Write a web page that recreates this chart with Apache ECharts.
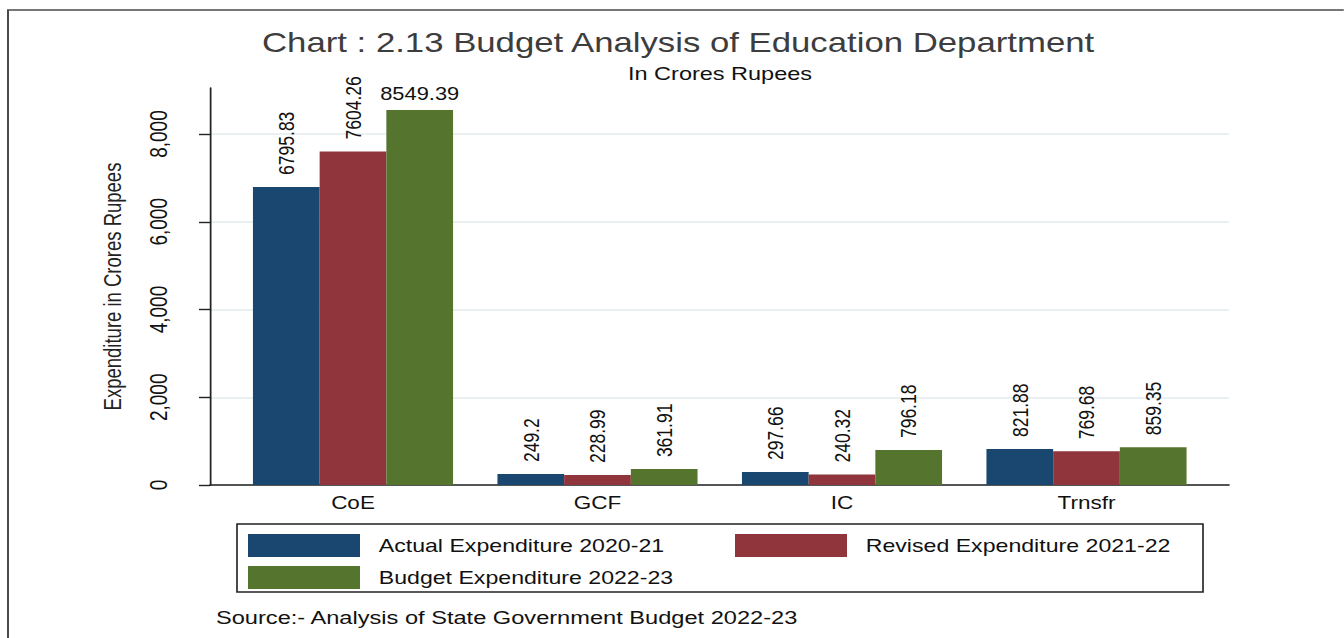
<!DOCTYPE html>
<html>
<head>
<meta charset="utf-8">
<script src="https://cdn.jsdelivr.net/npm/echarts@6/dist/echarts.min.js"></script>
<style>
  html, body { margin: 0; padding: 0; background: #fff; overflow: hidden; }
  #wrap { width: 1344px; height: 638px; overflow: hidden; position: relative; }
  #chart { position: absolute; left: 0; top: 0; height: 638px; transform-origin: 0 0; }
</style>
</head>
<body>
<div id="wrap"><div id="chart"></div></div>
<script>
// ---- data -------------------------------------------------------------
const categories   = ['CoE', 'GCF', 'IC', 'Trnsfr'];
const seriesNames  = ['Actual Expenditure 2020-21', 'Revised Expenditure 2021-22', 'Budget Expenditure 2022-23'];
const actual2021   = [6795.83, 249.2, 297.66, 821.88];
const revised2122  = [7604.26, 228.99, 240.32, 769.68];
const budget2223   = [8549.39, 361.91, 796.18, 859.35];
const yTickValues  = [0, 2000, 4000, 6000, 8000];
const yMax         = 9050;

// ---- layout -----------------------------------------------------------
// The graph is drawn on a narrower canvas and widened horizontally.
const SX = 1.25;
const W = 1344 / SX;
const H = 638;
const px = x => x / SX;           // page x -> drawing x

const el = document.getElementById('chart');
el.style.width = W + 'px';
el.style.transform = 'scaleX(' + SX + ')';

const FONT = '"Liberation Sans", Arial, Helvetica, sans-serif';
const colors = ['#1a476f', '#90353b', '#55752f'];

const plotTop = 88, plotBottom = H - 485;
const axisLeft = px(210), axisRight = px(1229);
const barsLeft = px(230.75), barsRight = px(1208.75);

const barLabel = {
  show: true,
  position: 'top',
  rotate: 90,
  align: 'left',
  verticalAlign: 'middle',
  distance: 12,
  fontFamily: FONT,
  fontSize: 17.5,
  color: '#111'
};

function barSeries(name, values, idx) {
  return {
    name: name,
    type: 'bar',
    xAxisIndex: 1,
    yAxisIndex: 1,
    barWidth: px(66.7),
    barGap: '0%',
    itemStyle: { color: colors[idx] },
    label: barLabel,
    data: values
  };
}

// tallest bar carries its value label horizontally above it
const budgetData = budget2223.map((v, i) => i === 0
  ? { value: v, label: { rotate: 0, align: 'center', verticalAlign: 'bottom', distance: 7 } }
  : v);

const chart = echarts.init(el, null, { renderer: 'svg', width: W, height: H });

const legendCommon = {
  icon: 'rect',
  itemWidth: px(112),
  itemHeight: 23,
  itemGap: 9,
  padding: 0,
  orient: 'vertical',
  top: 534,
  textStyle: { fontFamily: FONT, fontSize: 18.5, color: '#111', padding: [0, 0, 0, 10] }
};

chart.setOption({
  backgroundColor: '#fff',
  animation: false,
  color: colors,
  title: [
    {
      text: 'Chart : 2.13 Budget Analysis of Education Department',
      left: px(262), top: 29, padding: 0,
      textStyle: { fontFamily: FONT, fontSize: 27.8, fontWeight: 'normal', color: '#3d3d3d' }
    },
    {
      text: 'In Crores Rupees',
      left: px(628), top: 64, padding: 0,
      textStyle: { fontFamily: FONT, fontSize: 18.8, fontWeight: 'normal', color: '#111' }
    },
    {
      text: 'Source:- Analysis of State Government Budget 2022-23',
      left: px(216), top: 608, padding: 0,
      textStyle: { fontFamily: FONT, fontSize: 18.9, fontWeight: 'normal', color: '#111' }
    }
  ],
  legend: [
    Object.assign({}, legendCommon, { left: px(248), data: [seriesNames[0], seriesNames[2]] }),
    Object.assign({}, legendCommon, { left: px(735), data: [seriesNames[1]] })
  ],
  grid: [
    { left: axisLeft, right: W - axisRight, top: plotTop, bottom: plotBottom },
    { left: barsLeft, right: W - barsRight, top: plotTop, bottom: plotBottom }
  ],
  xAxis: [
    {
      gridIndex: 0, type: 'value', min: 0, max: 1,
      axisLine: { show: true, onZero: false, lineStyle: { color: '#222', width: 1.5 } },
      axisTick: { show: false }, axisLabel: { show: false }, splitLine: { show: false }
    },
    {
      gridIndex: 1, type: 'category', data: categories,
      axisLine: { show: false }, axisTick: { show: false },
      axisLabel: { margin: 9, fontFamily: FONT, fontSize: 18, color: '#111' }
    }
  ],
  yAxis: [
    {
      gridIndex: 0, type: 'value', min: 0, max: yMax,
      name: 'Expenditure in Crores Rupees',
      nameLocation: 'middle',
      nameGap: 68,
      nameTextStyle: { fontFamily: FONT, fontSize: 18.5, color: '#222' },
      axisLine: { show: true, lineStyle: { color: '#222', width: 1.4 } },
      axisTick: { show: true, length: px(11), customValues: yTickValues, lineStyle: { color: '#222', width: 1.4 } },
      axisLabel: {
        rotate: 90, margin: 31, customValues: yTickValues,
        fontFamily: FONT, fontSize: 19, color: '#111',
        formatter: v => v.toLocaleString('en-US')
      },
      splitLine: { show: true, lineStyle: { color: '#e3ebee', width: 1.5 } }
    },
    { gridIndex: 1, type: 'value', min: 0, max: yMax, show: false }
  ],
  graphic: [
    {
      type: 'rect', silent: true, z: 0,
      shape: { x: px(8), y: 10, width: 2000, height: 1000 },
      style: { fill: 'none', stroke: '#4a4a4a', lineWidth: 1.6 }
    },
    {
      type: 'rect', silent: true, z: 0,
      shape: { x: px(237), y: 524, width: px(1203) - px(237), height: 68 },
      style: { fill: 'none', stroke: '#222', lineWidth: 1.3 }
    }
  ],
  series: [
    barSeries(seriesNames[0], actual2021, 0),
    barSeries(seriesNames[1], revised2122, 1),
    barSeries(seriesNames[2], budgetData, 2)
  ]
});
</script>
</body>
</html>
